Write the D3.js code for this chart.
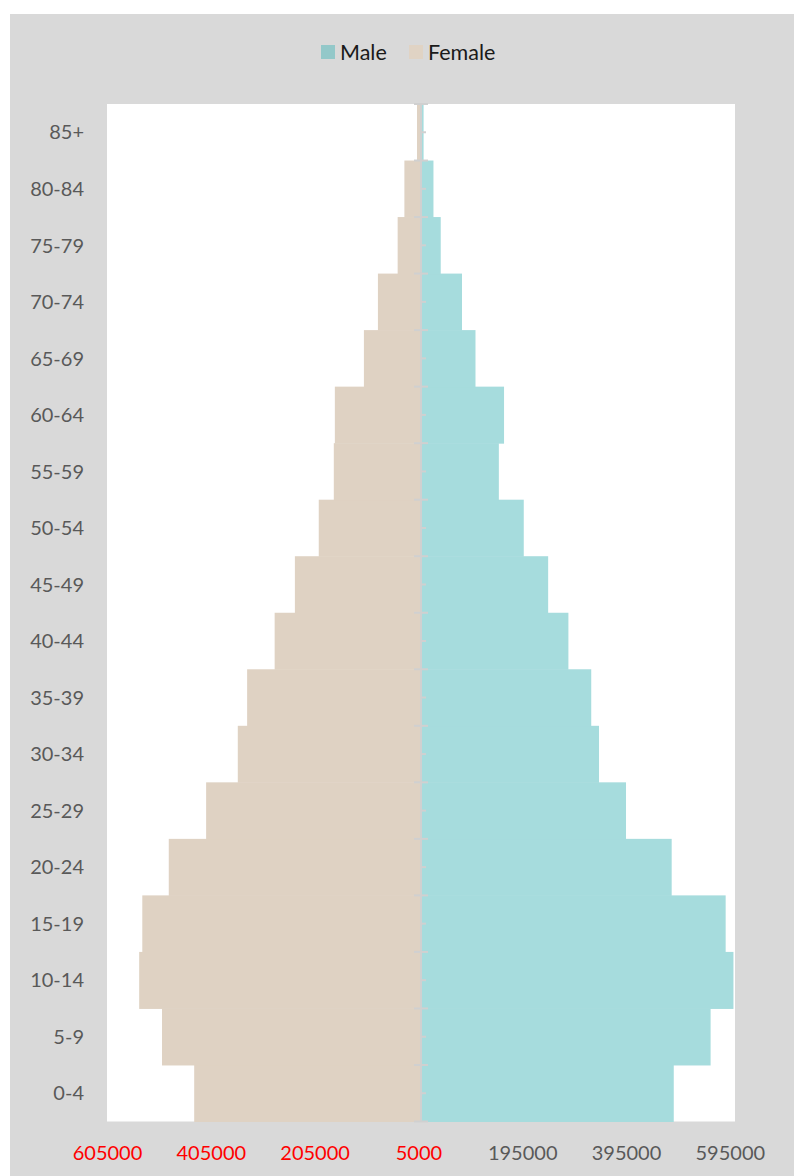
<!DOCTYPE html>
<html>
<head>
<meta charset="utf-8">
<script src="https://cdn.jsdelivr.net/npm/d3@7"></script>
<style>
  html, body { margin: 0; padding: 0; background: #ffffff; }
  svg { display: block; }
  text { font-family: Lato, "Open Sans", sans-serif; }
</style>
</head>
<body>
<svg id="chart" width="794" height="1176"></svg>
<script>
// Age groups, youngest first (drawn bottom to top)
const ageGroups = ["0-4", "5-9", "10-14", "15-19", "20-24", "25-29", "30-34", "35-39",
  "40-44", "45-49", "50-54", "55-59", "60-64", "65-69", "70-74", "75-79", "80-84", "85+"];

// Population by age group
const maleValues = [487000, 558000, 602000, 587000, 483000, 395000, 343000, 328000,
  284000, 245000, 198000, 150000, 160000, 105000, 79000, 38000, 24000, 5000];
const femaleValues = [437000, 499000, 543000, 537000, 486000, 414000, 353000, 335000,
  282000, 243000, 197000, 168000, 166000, 110000, 83000, 45000, 32000, 7700];

// Value-axis ticks (female side negative)
const xTicks = [-605000, -405000, -205000, -5000, 195000, 395000, 595000];

const seriesNames = ["Male", "Female"];
const seriesColors = ["#a6dcdd", "#dfd2c3"];
const legendColors = ["#93c8c9", "#e0d3c4"];

const svg = d3.select("#chart");

// chart background
svg.append("rect").attr("x", 10).attr("y", 14).attr("width", 784).attr("height", 1162)
  .attr("fill", "#d9d9d9");

const plot = { left: 107, right: 735, top: 104, bottom: 1121.5 };

svg.append("rect").attr("x", plot.left).attr("y", plot.top)
  .attr("width", plot.right - plot.left).attr("height", plot.bottom - plot.top)
  .attr("fill", "#ffffff");

const x = d3.scaleLinear().domain([-605000, 605000]).range([plot.left, plot.right]);
const y = d3.scaleBand().domain(ageGroups).range([plot.bottom, plot.top]).paddingInner(0).paddingOuter(0);

const rows = ageGroups.map((g, i) => ({ group: g, male: maleValues[i], female: femaleValues[i] }));

// Female bars (left)
svg.append("g").selectAll("rect").data(rows).join("rect")
  .attr("x", d => x(-d.female))
  .attr("y", d => y(d.group))
  .attr("width", d => x(0) - x(-d.female))
  .attr("height", y.bandwidth() + 0.5)
  .attr("fill", seriesColors[1]);

// Male bars (right)
svg.append("g").selectAll("rect").data(rows).join("rect")
  .attr("x", x(0))
  .attr("y", d => y(d.group))
  .attr("width", d => x(d.male) - x(0))
  .attr("height", y.bandwidth() + 0.5)
  .attr("fill", seriesColors[0]);

// Central category axis
const axisG = svg.append("g").attr("stroke", "#d0d0d0").attr("stroke-width", 2);
axisG.append("line").attr("x1", x(0)).attr("x2", x(0))
  .attr("y1", plot.top).attr("y2", plot.bottom);
const boundaries = ageGroups.map(g => y(g) + y.bandwidth()).concat([plot.top]);
axisG.selectAll("line.major").data(boundaries).join("line").attr("class", "major")
  .attr("x1", x(0) - 7).attr("x2", x(0) + 7)
  .attr("y1", d => d).attr("y2", d => d);
axisG.selectAll("line.minor").data(ageGroups).join("line").attr("class", "minor")
  .attr("x1", x(0)).attr("x2", x(0) + 5)
  .attr("y1", d => y(d) + y.bandwidth() / 2).attr("y2", d => y(d) + y.bandwidth() / 2);

// Category labels on the left
svg.append("g").selectAll("text").data(ageGroups).join("text")
  .attr("x", 84)
  .attr("y", d => y(d) + y.bandwidth() / 2)
  .attr("dy", "0.36em")
  .attr("text-anchor", "end")
  .attr("font-size", 20)
  .attr("fill", "#595959")
  .text(d => d);

// Value axis along the bottom
const xAxis = d3.axisBottom(x).tickValues(xTicks).tickSize(0).tickPadding(0)
  .tickFormat(d => String(Math.abs(d)));
const xg = svg.append("g").attr("transform", `translate(0, 1160)`).call(xAxis);
xg.select(".domain").remove();
xg.selectAll("text")
  .attr("font-size", 20)
  .attr("font-family", "Lato, 'Open Sans', sans-serif")
  .attr("dy", 0)
  .attr("fill", d => d < 0 ? "#ff0000" : "#595959");

// Legend
const legendItems = [
  { name: seriesNames[0], color: legendColors[0], x: 321 },
  { name: seriesNames[1], color: legendColors[1], x: 409 }
];
const lg = svg.append("g").selectAll("g").data(legendItems).join("g")
  .attr("transform", d => `translate(${d.x}, 45)`);
lg.append("rect").attr("width", 14).attr("height", 14).attr("fill", d => d.color);
lg.append("text").attr("x", 19).attr("y", 14.5)
  .attr("font-size", 21.5).attr("fill", "#1a1a1a")
  .text(d => d.name);
</script>
</body>
</html>
